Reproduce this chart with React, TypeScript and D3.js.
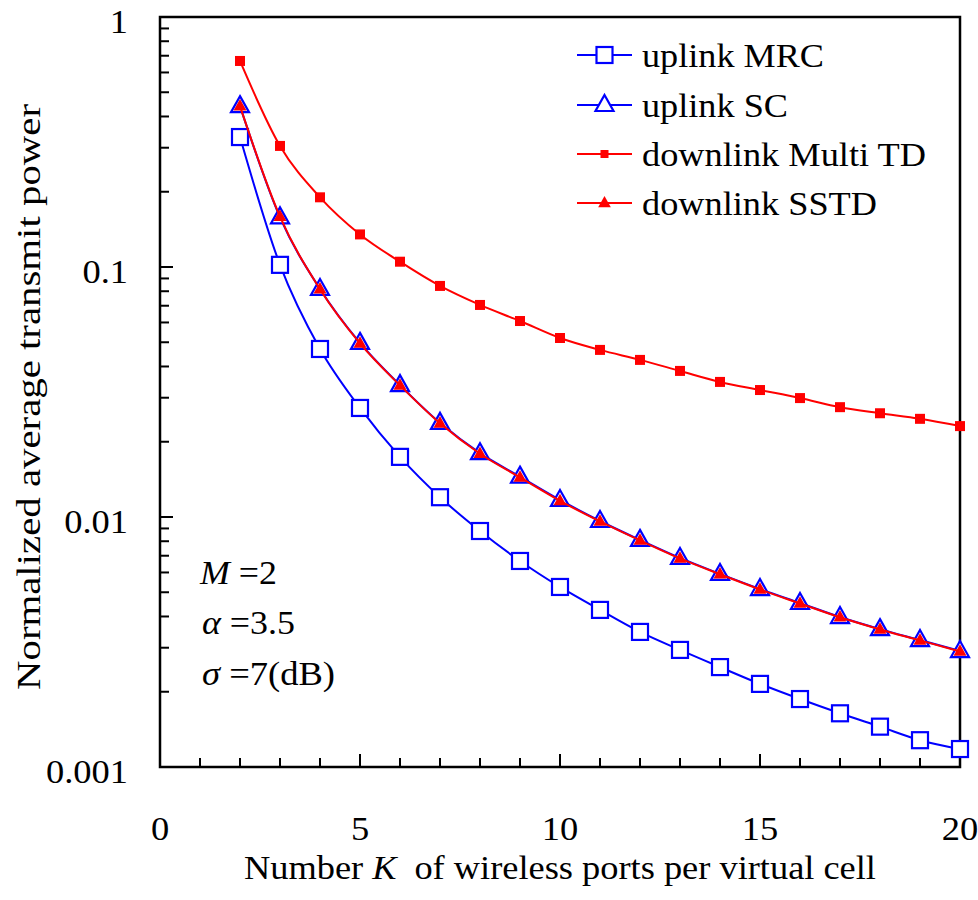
import * as d3 from "d3";

const ks = [2, 3, 4, 5, 6, 7, 8, 9, 10, 11, 12, 13, 14, 15, 16, 17, 18, 19, 20];

const uplinkMRC = [0.331, 0.102, 0.047, 0.0273, 0.0174, 0.012, 0.00879, 0.00667, 0.00525, 0.00425, 0.00347, 0.00294, 0.00251, 0.00215, 0.00187, 0.00164, 0.00145, 0.00128, 0.00118];
const uplinkSC = [0.44, 0.158, 0.0817, 0.0497, 0.0337, 0.0238, 0.018, 0.0145, 0.0117, 0.00964, 0.0081, 0.00686, 0.00592, 0.00515, 0.00453, 0.00398, 0.00356, 0.00322, 0.00291];
const downlinkMultiTD = [0.667, 0.305, 0.19, 0.135, 0.105, 0.084, 0.0705, 0.0608, 0.052, 0.0466, 0.0425, 0.0384, 0.0347, 0.0322, 0.0299, 0.0275, 0.026, 0.0247, 0.0231];
const downlinkSSTD = [0.44, 0.159, 0.0815, 0.0495, 0.0336, 0.0237, 0.0179, 0.0144, 0.0116, 0.0096, 0.00806, 0.00683, 0.0059, 0.00513, 0.00451, 0.00397, 0.00355, 0.00321, 0.0029];

const seriesNames = ["uplink MRC", "uplink SC", "downlink Multi TD", "downlink SSTD"];
const yTickLabels = ["1", "0.1", "0.01", "0.001"];
const xTickValues = [0, 5, 10, 15, 20];

const FONT = '"Liberation Serif", "Times New Roman", serif';
const txt = { fontFamily: FONT };
// widths the reference text takes (Times-like at ~36px)
const emW = 36.5;
const widthOf = (s: string) =>
  s.split("").reduce((a, c) => a + (c === "." ? 0.25 : 0.5), 0) * emW;
const legendLen = [182, 146, 284, 235];

export default function App() {
  const margin = { left: 160, top: 17, right: 18, bottom: 133 };
  const W = 978;
  const H = 900;

  const x = d3.scaleLinear().domain([0, 20]).range([margin.left, W - margin.right]);
  const y = d3.scaleLog().domain([0.001, 1]).range([H - margin.bottom, margin.top]);

  const line = d3
    .line<number>()
    .x((_, i) => x(ks[i]))
    .y((d) => y(d))
    .curve(d3.curveMonotoneX);

  const series = [
    { name: seriesNames[0], data: uplinkMRC, color: "#0000ff", marker: "sqOpen" },
    { name: seriesNames[1], data: uplinkSC, color: "#0000ff", marker: "triOpen" },
    { name: seriesNames[2], data: downlinkMultiTD, color: "#ff0000", marker: "sqFill" },
    { name: seriesNames[3], data: downlinkSSTD, color: "#ff0000", marker: "triFill" },
  ];

  const marker = (kind: string, cx: number, cy: number, key: any, legend = false) => {
    if (kind === "sqOpen") {
      const s = 16;
      return <rect key={key} x={cx - s / 2} y={cy - s / 2} width={s} height={s} fill="#fff" stroke="#0000ff" strokeWidth={2.2} />;
    }
    if (kind === "sqFill") {
      const s = legend ? 8 : 10;
      return <rect key={key} x={cx - s / 2} y={cy - s / 2} width={s} height={s} fill="#ff0000" />;
    }
    if (kind === "triOpen") {
      return <path key={key} d={`M${cx},${cy - 10}L${cx + 9},${cy + 6}L${cx - 9},${cy + 6}Z`} fill="#fff" stroke="#0000ff" strokeWidth={2.2} />;
    }
    const k = legend ? 0.7 : 0.72;
    return <path key={key} d={`M${cx},${cy - 10 * k}L${cx + 9 * k},${cy + 6 * k}L${cx - 9 * k},${cy + 6 * k}Z`} fill="#ff0000" />;
  };

  const yMajor = [1, 0.1, 0.01, 0.001];
  const yMinor: number[] = [];
  [0.001, 0.01, 0.1].forEach((d) => {
    for (let m = 2; m <= 9; m++) yMinor.push(d * m);
  });
  const xMinor = d3.range(1, 20).filter((v) => v % 5 !== 0);
  const y0 = H - margin.bottom;
  const legendRows = [55, 105, 154, 203];

  return (
    <svg width={W} height={H} style={{ position: "absolute", left: 0, top: 0, background: "#fff", fontFamily: FONT }}>
      {/* ticks */}
      {yMinor.map((v, i) => (
        <line key={"ym" + i} x1={x(0)} x2={x(0) + 9} y1={y(v)} y2={y(v)} stroke="#000" strokeWidth={2} />
      ))}
      {yMajor.map((v, i) => (
        <line key={"yM" + i} x1={x(0)} x2={x(0) + 13} y1={y(v)} y2={y(v)} stroke="#000" strokeWidth={2} />
      ))}
      {xMinor.map((v) => (
        <line key={"xm" + v} x1={x(v)} x2={x(v)} y1={y0} y2={y0 - 9} stroke="#000" strokeWidth={2} />
      ))}
      {xTickValues.map((v) => (
        <line key={"xM" + v} x1={x(v)} x2={x(v)} y1={y0} y2={y0 - 13} stroke="#000" strokeWidth={2} />
      ))}
      <rect x={x(0)} y={margin.top} width={x(20) - x(0)} height={y0 - margin.top} fill="none" stroke="#000" strokeWidth={2.5} />

      {/* tick labels */}
      {yMajor.map((v, i) => (
        <text key={"yl" + i} x={128} y={y(v) + 16} textAnchor="end" fontSize={34} style={txt}
          textLength={widthOf(yTickLabels[i])} lengthAdjust="spacingAndGlyphs">
          {yTickLabels[i]}
        </text>
      ))}
      {xTickValues.map((v) => (
        <text key={"xl" + v} x={x(v)} y={840} textAnchor="middle" fontSize={34} style={txt}
          textLength={widthOf(String(v))} lengthAdjust="spacingAndGlyphs">
          {v}
        </text>
      ))}

      {/* axis titles */}
      <text x={560} y={879} textAnchor="middle" fontSize={33} textLength={632} lengthAdjust="spacingAndGlyphs" style={txt}>
        Number <tspan fontStyle="italic">K</tspan><tspan dx={8}> of wireless ports per virtual cell</tspan>
      </text>
      <text transform="translate(40,397) rotate(-90)" textAnchor="middle" fontSize={33} textLength={586} lengthAdjust="spacingAndGlyphs" style={txt}>
        Normalized average transmit power
      </text>

      {/* series */}
      {series.map((s, si) => (
        <g key={"s" + si}>
          <path d={line(s.data) || ""} fill="none" stroke={s.color} strokeWidth={2} />
          {s.data.map((v, i) => marker(s.marker, x(ks[i]), y(v), i))}
        </g>
      ))}

      {/* legend */}
      {series.map((s, i) => (
        <g key={"lg" + i}>
          <line x1={577} x2={632} y1={legendRows[i]} y2={legendRows[i]} stroke={s.color} strokeWidth={2} />
          {marker(s.marker, 604.5, legendRows[i], "m", true)}
          <text x={642} y={legendRows[i] + 12} fontSize={33} textLength={legendLen[i]} lengthAdjust="spacingAndGlyphs" style={txt}>
            {s.name}
          </text>
        </g>
      ))}

      {/* parameters */}
      <text x={200} y={584} fontSize={33} style={txt} textLength={77} lengthAdjust="spacingAndGlyphs">
        <tspan fontStyle="italic">M</tspan> =2
      </text>
      <text x={202} y={634} fontSize={33} style={txt} textLength={93} lengthAdjust="spacingAndGlyphs">
        <tspan fontStyle="italic">α</tspan> =3.5
      </text>
      <text x={202} y={685} fontSize={33} style={txt} textLength={133} lengthAdjust="spacingAndGlyphs">
        <tspan fontStyle="italic">σ</tspan> =7(dB)
      </text>
    </svg>
  );
}
